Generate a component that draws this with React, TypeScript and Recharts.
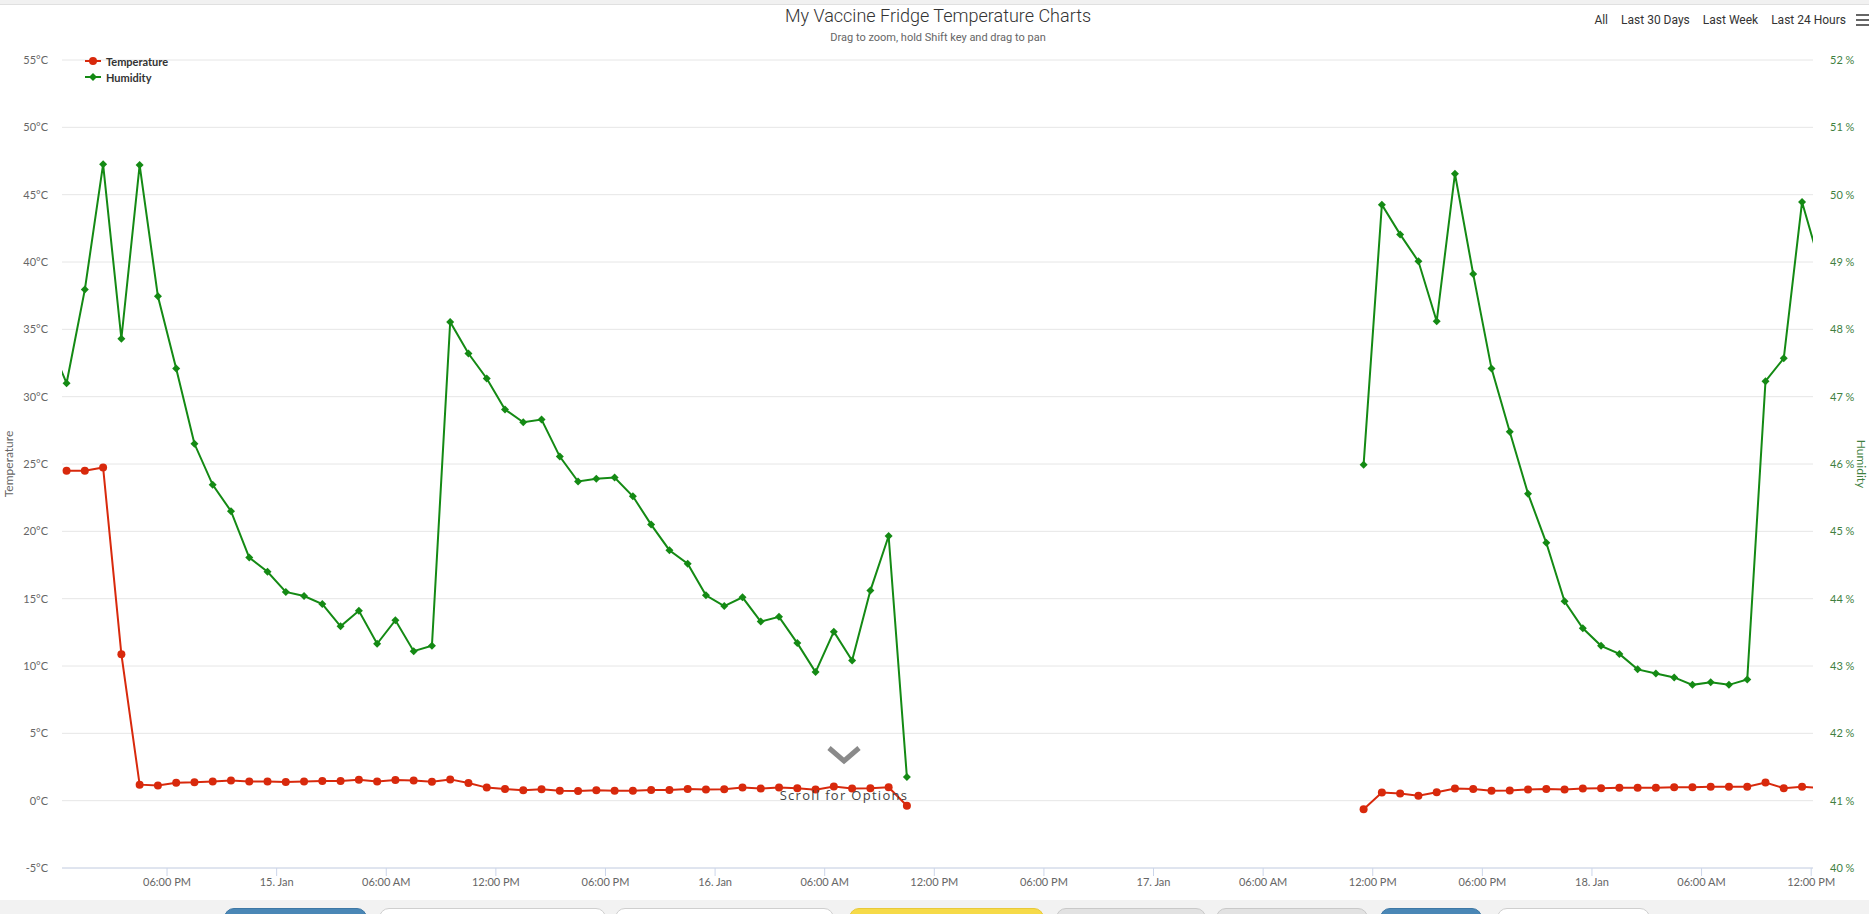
import { LineChart, Line, XAxis, YAxis, CartesianGrid, Legend } from "recharts";

// hours counted from 14 Jan 00:00, one reading per hour
const START_1 = 11.5; // 14 Jan 11:30
const START_2 = 83.5; // 17 Jan 11:30
const GAP_AT = 71;

const TEMP_1 = [
  null, 24.5, 24.5, 24.74, 10.88, 1.19, 1.13, 1.33, 1.36, 1.43, 1.49, 1.43, 1.43, 1.39, 1.43, 1.46,
  1.46, 1.56, 1.43, 1.53, 1.5, 1.41, 1.58, 1.31, 0.97, 0.87, 0.78, 0.85, 0.74, 0.72, 0.77, 0.74,
  0.74, 0.79, 0.79, 0.87, 0.82, 0.84, 0.97, 0.9, 0.97, 0.92, 0.82, 1.05, 0.9, 0.92, 1.0, -0.38,
];
const HUM_1 = [
  47.85, 47.2, 48.59, 50.45, 47.86, 50.44, 48.49, 47.42, 46.3, 45.69, 45.3, 44.61, 44.4, 44.1, 44.04, 43.92,
  43.59, 43.82, 43.33, 43.68, 43.22, 43.3, 48.11, 47.64, 47.27, 46.81, 46.62, 46.66, 46.11, 45.74, 45.78, 45.8,
  45.52, 45.1, 44.72, 44.52, 44.05, 43.89, 44.02, 43.66, 43.73, 43.34, 42.91, 43.51, 43.08, 44.12, 44.93, 41.35,
];
const TEMP_2 = [
  -0.63, 0.6, 0.53, 0.37, 0.63, 0.9, 0.86, 0.73, 0.76, 0.83, 0.86, 0.83, 0.9,
  0.93, 0.96, 0.96, 0.96, 1.0, 1.0, 1.03, 1.03, 1.03, 1.35, 0.93, 1.03, 0.93,
];
const HUM_2 = [
  45.99, 49.85, 49.41, 49.01, 48.12, 50.31, 48.82, 47.42, 46.48, 45.56, 44.83, 43.96, 43.56,
  43.3, 43.18, 42.95, 42.89, 42.83, 42.72, 42.76, 42.72, 42.8, 47.23, 47.57, 49.89, 48.95,
];

const X_TICKS = [18, 24, 30, 36, 42, 48, 54, 60, 66, 72, 78, 84, 90, 96, 102, 108];
const X_LABELS = [
  "06:00 PM", "15. Jan", "06:00 AM", "12:00 PM", "06:00 PM", "16. Jan", "06:00 AM", "12:00 PM",
  "06:00 PM", "17. Jan", "06:00 AM", "12:00 PM", "06:00 PM", "18. Jan", "06:00 AM", "12:00 PM",
];
const TEMP_TICKS = [-5, 0, 5, 10, 15, 20, 25, 30, 35, 40, 45, 50, 55];
const HUM_TICKS = [40, 41, 42, 43, 44, 45, 46, 47, 48, 49, 50, 51, 52];
const RANGES = ["All", "Last 30 Days", "Last Week", "Last 24 Hours"];
const SERIES_ORDER = ["Temperature", "Humidity"];

const RED = "#d8290c";
const GREEN = "#148a14";

const rows = [
  ...HUM_1.map((h, i) => ({ t: START_1 + i, temp: TEMP_1[i], hum: h })),
  { t: GAP_AT, temp: null, hum: null },
  ...HUM_2.map((h, i) => ({ t: START_2 + i, temp: TEMP_2[i], hum: h })),
];

function RedDot(p: any) {
  if (p.cx == null || p.cy == null) return <g key={p.key} />;
  return <circle key={p.key} cx={p.cx} cy={p.cy} r={4} fill={RED} />;
}

function GreenDot(p: any) {
  if (p.cx == null || p.cy == null) return <g key={p.key} />;
  const s = 4;
  return (
    <path key={p.key} fill={GREEN}
      d={`M${p.cx},${p.cy - s}L${p.cx + s},${p.cy}L${p.cx},${p.cy + s}L${p.cx - s},${p.cy}Z`} />
  );
}

function LegendBox({ payload }: any) {
  const items = [...(payload || [])].sort((a: any, b: any) => SERIES_ORDER.indexOf(a.value) - SERIES_ORDER.indexOf(b.value));
  return (
    <div style={{ fontFamily: "Lato, sans-serif", fontSize: 11, fontWeight: 700, color: "#333" }}>
      {items.map((e: any) => (
        <div key={e.value} style={{ display: "flex", alignItems: "center", height: 16 }}>
          <svg width={18} height={10} style={{ marginRight: 4 }}>
            <line x1={1} y1={5} x2={17} y2={5} stroke={e.color} strokeWidth={2} />
            {e.value === "Temperature"
              ? <circle cx={9} cy={5} r={4} fill={e.color} />
              : <path d="M9,1L13,5L9,9L5,5Z" fill={e.color} />}
          </svg>
          {e.value}
        </div>
      ))}
    </div>
  );
}

const leftTitle = ({ viewBox }: any) => {
  const x = viewBox.x + 8, y = viewBox.y + viewBox.height / 2;
  return (
    <text x={x} y={y} transform={`rotate(-90 ${x} ${y})`} textAnchor="middle" dominantBaseline="central"
      fill="#666" fontSize={12}>Temperature</text>
  );
};

const rightTitle = ({ viewBox }: any) => {
  const x = viewBox.x + 48, y = viewBox.y + viewBox.height / 2;
  return (
    <text x={x} y={y} transform={`rotate(90 ${x} ${y})`} textAnchor="middle" dominantBaseline="central"
      fill="#3f7f3f" fontSize={12}>Humidity</text>
  );
};

const BUTTONS = [
  { l: 224, w: 143, bg: "#4a87b6", bd: "#3e78a5" },
  { l: 379, w: 227, bg: "#fff", bd: "#cfcfcf" },
  { l: 615, w: 219, bg: "#fff", bd: "#cfcfcf" },
  { l: 849, w: 195, bg: "#f6da48", bd: "#e8c93a" },
  { l: 1056, w: 150, bg: "#e2e2e2", bd: "#c9c9c9" },
  { l: 1216, w: 152, bg: "#e2e2e2", bd: "#c9c9c9" },
  { l: 1380, w: 102, bg: "#4a87b6", bd: "#3e78a5" },
  { l: 1497, w: 153, bg: "#fff", bd: "#cfcfcf" },
];

export default function App() {
  return (
    <div style={{ position: "absolute", left: 0, top: 0, width: 1869, height: 914, background: "#fff", overflow: "hidden", fontFamily: "Lato, sans-serif" }}>
      <div style={{ position: "absolute", left: 0, top: 0, width: 1869, height: 4, background: "#f1f1f1", borderBottom: "1px solid #e0e0e0" }} />

      <LineChart width={1869} height={914} data={rows} margin={{ top: 60, right: 0, bottom: 16, left: 0 }}
        style={{ position: "absolute", left: 0, top: 0 }}>
        <CartesianGrid yAxisId="temp" vertical={false} stroke="#e6e6e6" />
        <XAxis dataKey="t" type="number" domain={[12.25, 108.1]} allowDataOverflow ticks={X_TICKS}
          tickFormatter={(v) => X_LABELS[X_TICKS.indexOf(v)] ?? ""} height={30}
          stroke="#ccd6eb" tickSize={8} tickMargin={2}
          tick={{ fill: "#666", fontSize: 11, fontFamily: "Lato, sans-serif" }} />
        <YAxis yAxisId="temp" orientation="left" domain={[-5, 55]} ticks={TEMP_TICKS} width={62}
          axisLine={false} tickLine={false} tickSize={0} tickMargin={14}
          tickFormatter={(v) => `${v}°C`} tick={{ fill: "#666", fontSize: 11, fontFamily: "Lato, sans-serif" }}
          label={leftTitle} />
        <YAxis yAxisId="hum" orientation="right" domain={[40, 52]} ticks={HUM_TICKS} width={56}
          axisLine={false} tickLine={false} tickSize={0} tickMargin={17}
          tickFormatter={(v) => `${v} %`} tick={{ fill: "#3f7f3f", fontSize: 11, fontFamily: "Lato, sans-serif" }}
          label={rightTitle} />
        <Legend layout="vertical" align="center" verticalAlign="middle" content={LegendBox}
          wrapperStyle={{ left: 84, top: 53, width: 120, height: 34 }} />
        <Line yAxisId="temp" dataKey="temp" name="Temperature" stroke={RED} strokeWidth={2}
          dot={RedDot} activeDot={false} isAnimationActive={false} />
        <Line yAxisId="hum" dataKey="hum" name="Humidity" stroke={GREEN} strokeWidth={2}
          dot={GreenDot} activeDot={false} isAnimationActive={false} />
      </LineChart>

      <div style={{ position: "absolute", left: 938, top: 5, transform: "translateX(-50%)", whiteSpace: "nowrap", fontFamily: "Roboto, sans-serif", fontWeight: 300, fontSize: 18, color: "#333" }}>
        My Vaccine Fridge Temperature Charts
      </div>
      <div style={{ position: "absolute", left: 938, top: 31, transform: "translateX(-50%)", whiteSpace: "nowrap", fontFamily: "Roboto, sans-serif", fontSize: 11, color: "#666" }}>
        Drag to zoom, hold Shift key and drag to pan
      </div>
      <div style={{ position: "absolute", right: 23, top: 13, display: "flex", gap: 13, fontFamily: "Roboto, sans-serif", fontSize: 12, color: "#333" }}>
        {RANGES.map((r) => <span key={r}>{r}</span>)}
      </div>
      <div style={{ position: "absolute", left: 1856, top: 14 }}>
        {[0, 1, 2].map((i) => <div key={i} style={{ width: 13, height: 2, background: "#666", marginBottom: 3 }} />)}
      </div>

      <svg style={{ position: "absolute", left: 826, top: 744 }} width={36} height={22}>
        <path d="M3,4 L18,17 L33,4" fill="none" stroke="#8a8a8a" strokeWidth={5} />
      </svg>
      <div style={{ position: "absolute", left: 844, top: 786, transform: "translateX(-50%)", whiteSpace: "nowrap", fontFamily: "'Open Sans', sans-serif", fontSize: 13, letterSpacing: 1.3, color: "#444" }}>
        Scroll for Options
      </div>

      <div style={{ position: "absolute", left: 0, top: 900, width: 1869, height: 14, background: "#f2f2f2" }} />
      {BUTTONS.map((b, i) => (
        <div key={i} style={{ position: "absolute", left: b.l, top: 908, width: b.w, height: 20, background: b.bg, border: `1px solid ${b.bd}`, borderRadius: 10, boxSizing: "border-box" }} />
      ))}
    </div>
  );
}
